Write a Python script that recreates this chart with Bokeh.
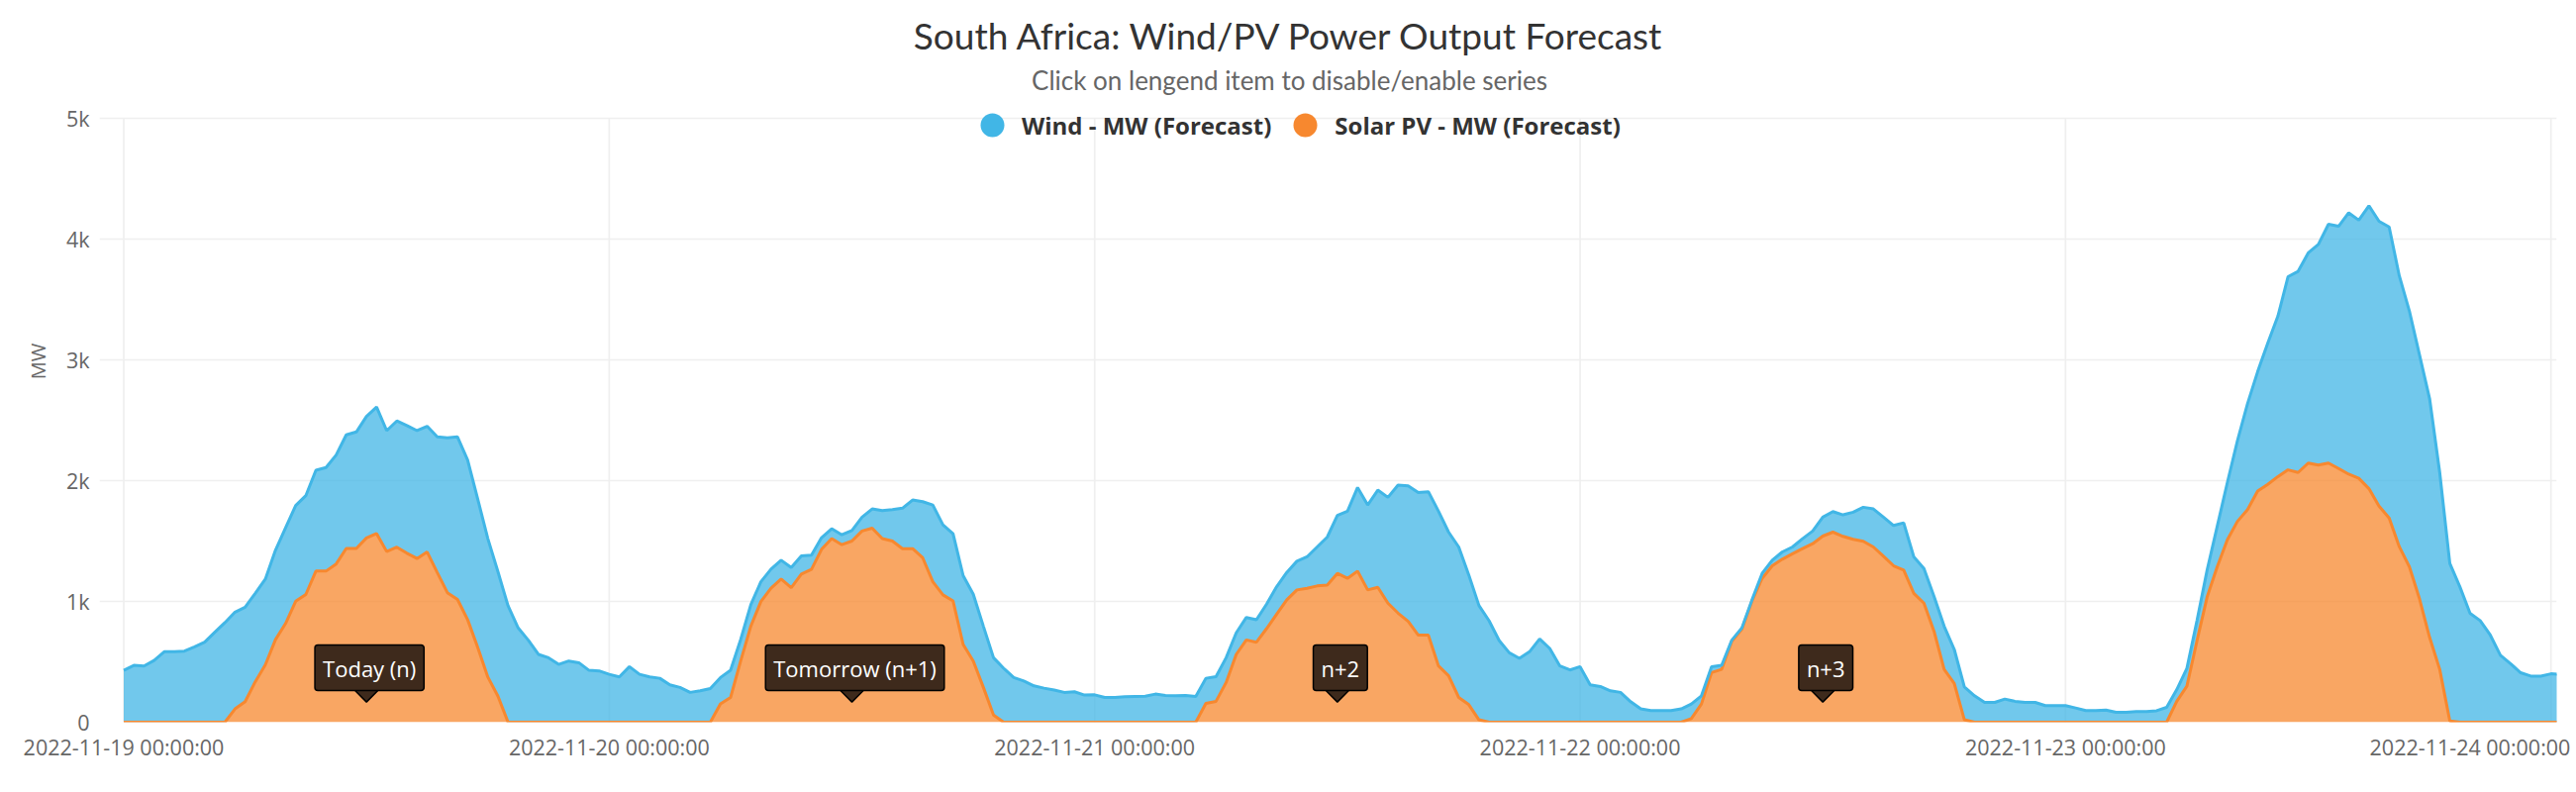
import math
import pandas as pd
from bokeh.plotting import figure
from bokeh.models import (ColumnDataSource, Range1d, FixedTicker, DatetimeTickFormatter,
                          DatetimeAxis, Label, Legend, LegendItem)
from bokeh.transform import stack
from bokeh.embed import file_html
from bokeh.resources import INLINE

# ---------------- data ----------------
title_text = "South Africa: Wind/PV Power Output Forecast"
subtitle_text = "Click on lengend item to disable/enable series"
series_names = ["Wind - MW (Forecast)", "Solar PV - MW (Forecast)"]
y_axis_title = "MW"
start_time = "2022-11-19 00:00"
step = "30min"

wind_mw = [
    430, 471, 466, 512, 584, 584, 589, 625, 663, 745,
    825, 802, 783, 733, 710, 741, 793, 793, 819, 836,
    858, 903, 941, 965, 1007, 1048, 1002, 1046, 1058, 1060,
    1042, 1124, 1283, 1347, 1323, 1229, 1147, 1032, 964, 781,
    680, 562, 534, 479, 507, 493, 430, 425, 397, 375,
    460, 397, 375, 364, 310, 288, 247, 260, 279, 219,
    225, 178, 178, 164, 158, 156, 167, 151, 118, 96,
    82, 82, 88, 115, 159, 232, 261, 335, 403, 465,
    636, 581, 557, 570, 553, 507, 474, 447, 370, 342,
    301, 282, 266, 247, 252, 225, 227, 205, 205, 211,
    214, 216, 233, 222, 219, 222, 214, 208, 205, 205,
    178, 186, 186, 203, 227, 227, 238, 260, 323, 397,
    480, 556, 693, 704, 805, 877, 1060, 1123, 1183, 1189,
    1282, 1191, 1247, 1074, 947, 841, 677, 575, 529, 584,
    690, 611, 466, 433, 460, 310, 296, 260, 247, 170,
    110, 96, 96, 96, 110, 121, 68, 49, 33, 10,
    10, 9, 41, 46, 60, 57, 83, 105, 157, 170,
    178, 225, 282, 315, 324, 334, 392, 302, 288, 288,
    357, 282, 273, 219, 164, 164, 192, 173, 164, 164,
    137, 137, 137, 118, 96, 96, 101, 82, 82, 88,
    89, 95, 123, 97, 148, 167, 223, 335, 474, 669,
    878, 990, 1171, 1330, 1600, 1667, 1742, 1829, 1979, 2007,
    2166, 2139, 2344, 2361, 2412, 2245, 2119, 2021, 1979, 1631,
    1306, 1121, 903, 842, 722, 555, 485, 410, 382, 382,
    401, 396,
]

solar_mw = [
    0, 0, 0, 0, 0, 0, 0, 0, 0, 0,
    0, 110, 170, 335, 476, 684, 818, 1002, 1058, 1252,
    1252, 1311, 1440, 1440, 1527, 1563, 1414, 1450, 1400, 1356,
    1410, 1240, 1073, 1017, 850, 620, 374, 215, 0, 0,
    0, 0, 0, 0, 0, 0, 0, 0, 0, 0,
    0, 0, 0, 0, 0, 0, 0, 0, 0, 151,
    205, 507, 795, 1000, 1110, 1186, 1115, 1227, 1266, 1433,
    1521, 1471, 1501, 1584, 1608, 1521, 1501, 1438, 1438, 1362,
    1164, 1055, 1005, 644, 507, 288, 60, 0, 0, 0,
    0, 0, 0, 0, 0, 0, 0, 0, 0, 0,
    0, 0, 0, 0, 0, 0, 0, 156, 173, 329,
    562, 682, 663, 775, 896, 1014, 1096, 1110, 1129, 1137,
    1233, 1192, 1252, 1096, 1118, 986, 904, 836, 721, 721,
    466, 384, 205, 145, 20, 0, 0, 0, 0, 0,
    0, 0, 0, 0, 0, 0, 0, 0, 0, 0,
    0, 0, 0, 0, 0, 30, 151, 411, 438, 670,
    771, 1005, 1192, 1296, 1351, 1395, 1438, 1479, 1542, 1575,
    1540, 1515, 1499, 1452, 1375, 1296, 1260, 1068, 986, 753,
    438, 321, 20, 0, 0, 0, 0, 0, 0, 0,
    0, 0, 0, 0, 0, 0, 0, 0, 0, 0,
    0, 0, 0, 173, 298, 675, 1037, 1288, 1511, 1664,
    1762, 1915, 1971, 2035, 2091, 2069, 2147, 2130, 2147, 2102,
    2055, 2021, 1935, 1790, 1692, 1455, 1288, 1023, 703, 438,
    10, 0, 0, 0, 0, 0, 0, 0, 0, 0,
    0, 0,
]

xtick_dates = ["2022-11-19", "2022-11-20", "2022-11-21", "2022-11-22", "2022-11-23", "2022-11-24"]
ytick_values = [0, 1000, 2000, 3000, 4000, 5000]
ytick_labels = ["0", "1k", "2k", "3k", "4k", "5k"]

annot_times = ["2022-11-19 12:00", "2022-11-20 12:00", "2022-11-21 12:00", "2022-11-22 12:00"]
annot_labels = ["Today (n)", "Tomorrow (n+1)", "n+2", "n+3"]

# ---------------- styling / layout ----------------
wind_color = "#41b6e6"
solar_color = "#f7882f"
box_color = "#3e2a1c"
grid_color = "#efefef"
label_color = "#666666"
tick_font_size = "21.5px"
W, H = 2602, 800
Y_TOP = 5980          # frame reaches the top of the canvas; 5k line sits at ~120 px


def ms(ts):
    return pd.Timestamp(ts).value / 1e6


times = pd.date_range(start_time, periods=len(wind_mw), freq=step)
src = ColumnDataSource(dict(t=times, wind=wind_mw, solar=solar_mw))

x_start, x_end = ms("2022-11-18 22:48"), ms("2022-11-24 00:17")
p = figure(width=W, height=H, output_backend="svg", toolbar_location=None,
           x_axis_type="datetime",
           x_range=Range1d(x_start, x_end), y_range=Range1d(0, Y_TOP),
           min_border_left=100, min_border_right=20, min_border_top=0, min_border_bottom=71)
p.outline_line_color = None
p.background_fill_color = "white"
p.border_fill_color = "white"
p.xgrid.visible = False

# vertical day grid lines (stop at the top tick like the reference)
xt = [ms(d) for d in xtick_dates]
p.segment(x0=xt, y0=[ytick_values[0]] * len(xt), x1=xt, y1=[ytick_values[-1]] * len(xt),
          line_color=grid_color, line_width=1.7)

# stacked areas
p.varea_stack(["solar", "wind"], x="t", source=src,
              fill_color=[solar_color, wind_color], fill_alpha=0.75)
p.line(x="t", y="solar", source=src, line_color=solar_color, line_width=3)
p.line(x="t", y=stack("solar", "wind"), source=src, line_color=wind_color, line_width=3)

# axes
fmt = "%Y-%m-%d %H:%M:%S"
def dt_fmt():
    return DatetimeTickFormatter(microseconds=fmt, milliseconds=fmt, seconds=fmt,
                                 minsec=fmt, minutes=fmt, hourmin=fmt, hours=fmt,
                                 days=fmt, months=fmt, years=fmt)

p.xaxis.ticker = FixedTicker(ticks=xt[:-1])
p.xaxis.formatter = dt_fmt()
p.yaxis.ticker = FixedTicker(ticks=ytick_values)
p.yaxis.major_label_overrides = {v: l for v, l in zip(ytick_values, ytick_labels)}
p.yaxis.bounds = (ytick_values[0], ytick_values[-1])
p.yaxis.axis_label = y_axis_title

# the last date label is pushed left so it stays inside the canvas (as the reference does):
# a second axis on a range shifted by 4 h draws it, centred 4 h left of its tick
shift = 4 * 3600 * 1000
p.extra_x_ranges = {"edge": Range1d(x_start + shift, x_end + shift)}
edge_axis = DatetimeAxis(x_range_name="edge", ticker=FixedTicker(ticks=xt[-1:]),
                         formatter=dt_fmt())
p.add_layout(edge_axis, "below")

for ax in (p.xaxis + p.yaxis):
    ax.axis_line_color = None
    ax.major_tick_line_color = None
    ax.minor_tick_line_color = None
    ax.major_tick_out = 0
    ax.minor_tick_out = 0
    ax.major_label_text_font = "Open Sans"
    ax.major_label_text_font_size = tick_font_size
    ax.major_label_text_color = label_color
p.xaxis[0].major_label_standoff = 10
edge_axis.major_label_standoff = -32
p.yaxis.major_label_standoff = 10
p.yaxis.axis_label_text_font = "Open Sans"
p.yaxis.axis_label_text_font_size = "20px"
p.yaxis.axis_label_text_font_style = "normal"
p.yaxis.axis_label_text_color = label_color
p.yaxis.axis_label_standoff = 12

p.ygrid.grid_line_color = grid_color
p.ygrid.grid_line_width = 1.7

# titles
p.add_layout(Label(x=1202, y=694, x_units="screen", y_units="screen", text=title_text,
                   text_align="center", text_baseline="middle",
                   text_font="Lato", text_font_size="37px", text_color="#333333"))
p.add_layout(Label(x=1202, y=649, x_units="screen", y_units="screen", text=subtitle_text,
                   text_align="center", text_baseline="middle",
                   text_font="Lato", text_font_size="26px", text_color=label_color))

# legend (hidden marker renderers give the round legend symbols)
wind_dot = p.scatter(x="t", y="wind", source=src, marker="circle", size=24,
                     fill_color=wind_color, line_color=None, visible=False)
solar_dot = p.scatter(x="t", y="solar", source=src, marker="circle", size=24,
                      fill_color=solar_color, line_color=None, visible=False)
legend = Legend(items=[LegendItem(label=series_names[0], renderers=[wind_dot]),
                       LegendItem(label=series_names[1], renderers=[solar_dot])],
                orientation="horizontal", location=(872, 573),
                glyph_width=60, glyph_height=60, label_standoff=0, spacing=4,
                padding=0, margin=0, background_fill_alpha=0, border_line_alpha=0,
                label_text_font="Open Sans", label_text_font_style="bold",
                label_text_font_size="24px", label_text_color="#333333")
p.add_layout(legend)

# day annotations (callouts)
ax_ms = [ms(t) for t in annot_times]
arrow_y = 260
p.scatter(x=ax_ms, y=[arrow_y] * len(ax_ms), marker="square", angle=math.pi / 4, size=16,
          fill_color=box_color, line_color="black", line_width=1.5)
for xv, txt in zip(ax_ms, annot_labels):
    p.add_layout(Label(x=xv, y=55, x_units="data", y_units="screen", x_offset=3,
                       text=txt, text_align="center", text_baseline="middle",
                       text_font="Open Sans", text_font_size="22px", text_color="white",
                       background_fill_color=box_color, border_line_color="black",
                       border_line_width=1.5, padding=8, border_radius=3))

open("out.html", "w").write(file_html(p, INLINE))
